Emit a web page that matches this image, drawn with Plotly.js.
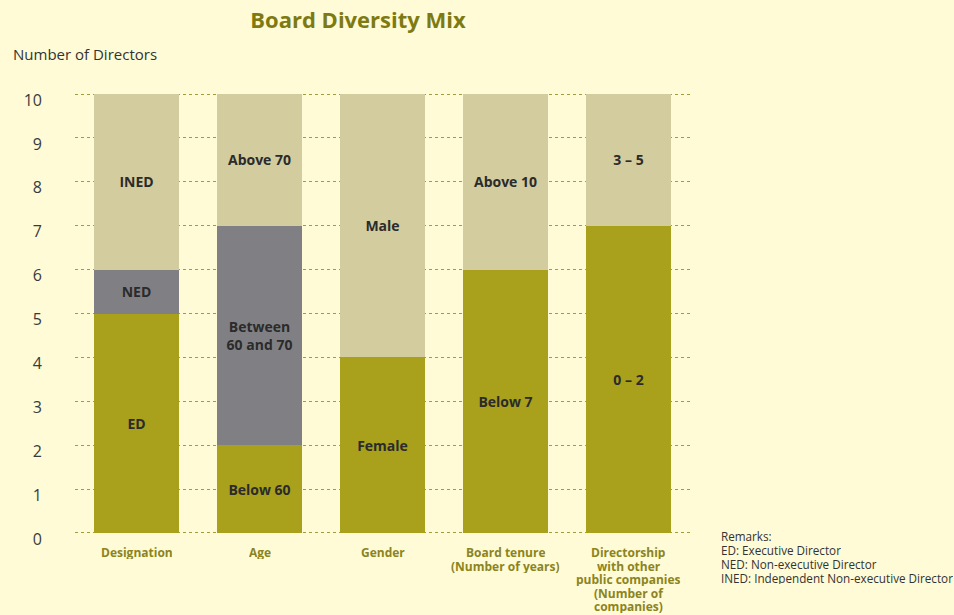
<!DOCTYPE html>
<html>
<head>
<meta charset="utf-8">
<script src="https://cdn.plot.ly/plotly-3.0.1.min.js"></script>
<style>
html,body{margin:0;padding:0;background:#FFFBD6;}
#chart{width:954px;height:615px;}
</style>
</head>
<body>
<div id="chart"></div>
<script>
var categories = ['Designation', 'Age', 'Gender', 'Board tenure<br>(Number of years)', 'Directorship<br>with other<br>public companies<br>(Number of<br>companies)'];
var bottomValues = [5, 2, 4, 6, 7];
var bottomLabels = ['ED', 'Below 60', 'Female', 'Below 7', '0 – 2'];
var middleValues = [1, 5, 0, 0, 0];
var middleLabels = ['NED', 'Between<br>60 and 70', '', '', ''];
var topValues = [4, 3, 6, 4, 3];
var topLabels = ['INED', 'Above 70', 'Male', 'Above 10', '3 – 5'];
var yTicks = [0, 1, 2, 3, 4, 5, 6, 7, 8, 9, 10];
var remarks = ['Remarks:', 'ED: Executive Director', 'NED: Non-executive Director', 'INED: Independent Non-executive Director'];

var FONT = 'Open Sans, Noto Sans, sans-serif';
var idx = categories.map(function(c, i){ return i; });

// plot area geometry (pixels)
var PL = 75, PR = 690, PT = 93, PB = 534;
var PH = PB - PT;
function py(pix){ return (PB - pix) / PH; }

function trace(vals, labels, color){
  return {
    type: 'bar', x: idx, y: vals, text: labels,
    textposition: 'inside', insidetextanchor: 'middle',
    textfont: {family: FONT, size: 14, color: '#2b2b2b', weight: 'bold'},
    marker: {color: color, line: {width: 0}},
    hoverinfo: 'none', width: 0.69, constraintext: 'none'
  };
}

var data = [
  trace(bottomValues, bottomLabels, '#A9A01C'),
  trace(middleValues, middleLabels, '#808084'),
  trace(topValues, topLabels, '#D2CC9E')
];

var annotations = [
  {text: 'Number of Directors', xref: 'paper', yref: 'paper', x: (11-PL)/(PR-PL), y: py(54), xanchor: 'left', yanchor: 'middle', showarrow: false, font: {family: FONT, size: 15, color: '#333333'}}
];
categories.forEach(function(c, i){
  c.split('<br>').forEach(function(line, j){
    annotations.push({text: '<b>' + line + '</b>', xref: 'x', yref: 'paper', x: i, y: py(552.5 + 13.6*j), xanchor: 'center', yanchor: 'middle', height: 13, showarrow: false, font: {family: FONT, size: 12, color: '#8B8420'}});
  });
});
var remarkY = [535.5, 549.5, 563.5, 577];
remarks.forEach(function(line, j){
  annotations.push({text: line, xref: 'paper', yref: 'paper', x: (719-PL)/(PR-PL), y: py(remarkY[j]), xanchor: 'left', yanchor: 'middle', height: 13, showarrow: false, font: {family: FONT, size: 11.7, color: '#333333'}});
});

var layout = {
  width: 954, height: 615,
  paper_bgcolor: '#FFFBD6', plot_bgcolor: 'rgba(0,0,0,0)',
  margin: {l: PL, r: 954 - PR, t: PT, b: 615 - PB},
  barmode: 'stack', showlegend: false,
  font: {family: FONT},
  title: {text: '<b>Board Diversity Mix</b>', x: 358/954, xanchor: 'center', xref: 'container', y: 1 - 20/615, yanchor: 'middle', yref: 'container', font: {family: FONT, size: 22, color: '#7E7A12'}},
  xaxis: {
    range: [-0.5, 4.5], tickmode: 'array', tickvals: idx, ticktext: idx.map(function(){return '';}),
    showgrid: false, zeroline: false, showline: false, ticks: '', fixedrange: true
  },
  yaxis: {
    range: [-0.023, 10.023], tickmode: 'array', tickvals: yTicks, ticktext: yTicks.map(String),
    tickfont: {family: FONT, size: 16, color: '#3a3a3a'},
    showgrid: true, gridcolor: '#A29C3C', griddash: '3px,3px', gridwidth: 1,
    zeroline: false, showline: false, ticks: '', ticklabelstandoff: 32, ticklabelshift: 6,
    layer: 'below traces'
  },
  annotations: annotations
};

Plotly.newPlot('chart', data, layout, {displayModeBar: false, staticPlot: true});
</script>
</body>
</html>
